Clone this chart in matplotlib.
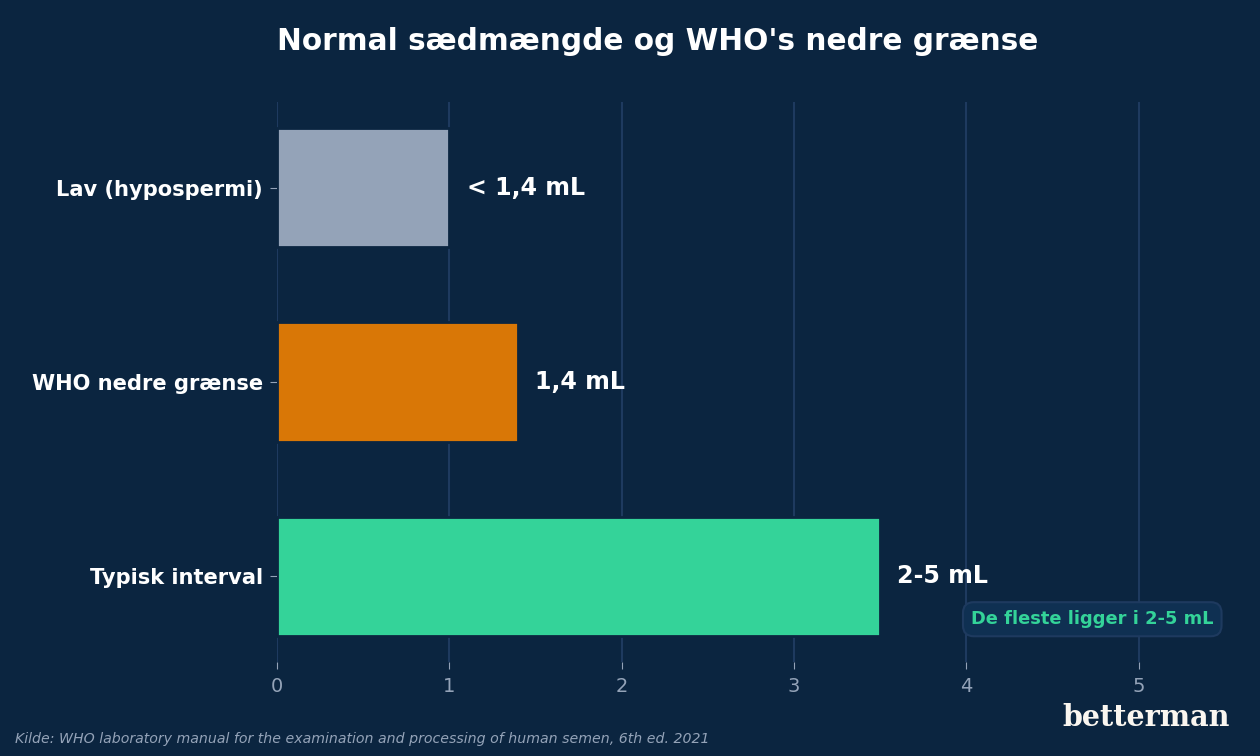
import matplotlib
matplotlib.use("Agg")
import matplotlib.pyplot as plt

plt.rcParams['font.family'] = ['DejaVu Sans']

# data
categories = ["Lav (hypospermi)", "WHO nedre grænse", "Typisk interval"]
values = [1.0, 1.4, 3.5]
value_labels = ["< 1,4 mL", "1,4 mL", "2-5 mL"]
bar_colors = ["#94a3b8", "#d97706", "#34d399"]
x_ticks = [0, 1, 2, 3, 4, 5]

bg = "#0b2540"
grid_col = "#1e3a5f"
muted = "#94a3b8"

fig = plt.figure(figsize=(12.6, 7.56), dpi=100, facecolor=bg)
ax = fig.add_axes([0.2198, 1 - 662 / 756, 0.7522, (662 - 102) / 756], facecolor=bg)

ypos = list(range(len(categories)))
ax.barh(ypos, values, height=0.615, color=bar_colors, edgecolor=bg, linewidth=2, zorder=3)
ax.set_ylim(2.44, -0.44)
ax.set_yticks(ypos)
ax.set_yticklabels(categories, color="white", fontsize=15.1, fontweight="bold")
ax.set_xticks(x_ticks)
ax.set_xticklabels([str(t) for t in x_ticks], color=muted, fontsize=14)
ax.set_xlim(0, 5.5)
ax.tick_params(axis="both", colors=muted, length=5)
ax.tick_params(axis="y", labelcolor="white", pad=5)
ax.tick_params(axis="x", labelcolor=muted, pad=6)
for s in ax.spines.values():
    s.set_visible(False)
ax.grid(axis="x", color=grid_col, linewidth=1.5, zorder=0)
ax.set_axisbelow(True)

for y, v, lab in zip(ypos, values, value_labels):
    ax.text(v + 0.1, y, lab, va="center", ha="left", color="white",
            fontsize=17.1, fontweight="bold", zorder=4)

ax.text(5.435, 2.22, "De fleste ligger i 2-5 mL", ha="right", va="center",
        color="#34d399", fontsize=12.85, fontweight="bold", zorder=5,
        bbox=dict(boxstyle="round,pad=0.45,rounding_size=0.6", facecolor="#0f3052",
                  edgecolor="#1e3a5f", linewidth=1.5))

fig.text(658 / 1260, 1 - 42 / 756, "Normal sædmængde og WHO's nedre grænse",
         ha="center", va="center", color="white", fontsize=21.3, fontweight="bold")
fig.text(15 / 1260, 1 - 739 / 756,
         "Kilde: WHO laboratory manual for the examination and processing of human semen, 6th ed. 2021",
         ha="left", va="center", color=muted, fontsize=10.2, style="italic")
fig.text(1230 / 1260, 1 - 718 / 756, "betterman", ha="right", va="center",
         color="#faf6f0", fontsize=20.6, fontweight="bold", family="DejaVu Serif")

fig.savefig("out.png", dpi=100, facecolor=bg)
